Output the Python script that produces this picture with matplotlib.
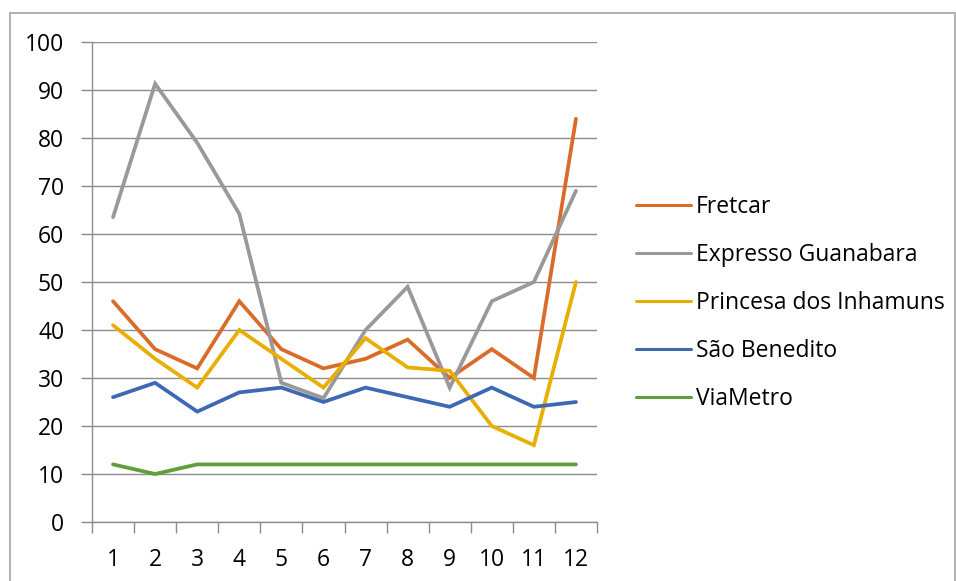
import numpy as np
import matplotlib.pyplot as plt
from matplotlib.patches import Rectangle

months = [1, 2, 3, 4, 5, 6, 7, 8, 9, 10, 11, 12]

fretcar = [46, 36, 32, 46, 36, 32, 34, 38, 30, 36, 30, 84]
expresso_guanabara = [63.5, 91.3, 79, 64.2, 29, 25.8, 40, 49, 28, 46, 50, 69]
princesa = [41, 34, 28, 40, 34, 28, 38.3, 32.2, 31.5, 20, 16, 50]
sao_benedito = [26, 29, 23, 27, 28, 25, 28, 26, 24, 28, 24, 25]
viametro = [12, 10, 12, 12, 12, 12, 12, 12, 12, 12, 12, 12]

series = [
    ("Fretcar", fretcar, "#DA6C2A"),
    ("Expresso Guanabara", expresso_guanabara, "#999999"),
    ("Princesa dos Inhamuns", princesa, "#E8AE00"),
    ("São Benedito", sao_benedito, "#3D68B4"),
    ("ViaMetro", viametro, "#629E3C"),
]

plt.rcParams['font.family'] = ['Open Sans', 'DejaVu Sans']

fig = plt.figure(figsize=(9.56, 5.81), dpi=100)
ax = fig.add_axes([92 / 956, 59 / 581, 505 / 956, 480 / 581])

grid_color = "#8C8C8C"
for name, vals, col in series:
    ax.plot(months, vals, color=col, linewidth=2.7, label=name,
            solid_capstyle='round', solid_joinstyle='miter')

ax.set_xlim(0.5, 12.5)
ax.set_ylim(0, 100)
ax.set_yticks(np.arange(0, 101, 10))
ax.yaxis.grid(True, color=grid_color, linewidth=1.0)
ax.set_axisbelow(True)

ax.set_xticks(months)
ax.set_xticks(np.arange(0.5, 13, 1), minor=True)
ax.tick_params(axis='x', which='major', length=0, pad=19, labelsize=16.5)
ax.tick_params(axis='x', which='minor', length=8, color=grid_color, width=1.0)
ax.tick_params(axis='y', length=8, color=grid_color, width=1.0, pad=12, labelsize=16.5)

for s in ['top', 'right']:
    ax.spines[s].set_visible(False)
for s in ['left', 'bottom']:
    ax.spines[s].set_color(grid_color)
    ax.spines[s].set_linewidth(1.0)

leg = ax.legend(loc='center left', bbox_to_anchor=(1.06, 0.456), frameon=False,
                fontsize=16.5, handlelength=2.36, handletextpad=0.22,
                labelspacing=1.04, borderaxespad=0)
for h in leg.get_lines():
    h.set_linewidth(2.2)

fig.patches.append(Rectangle((10 / 956, -0.01), 945 / 956, 1 - 13 / 581 + 0.01,
                             transform=fig.transFigure, fill=False,
                             edgecolor="#ABABAB", linewidth=1.3))

fig.savefig("out.png", dpi=100)
